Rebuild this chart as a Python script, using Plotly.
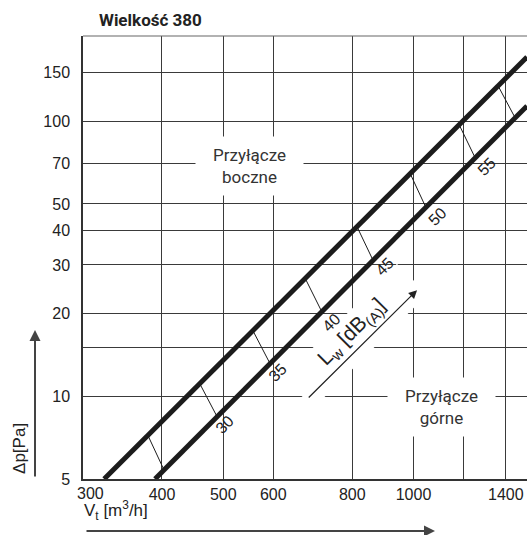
import numpy as np
import plotly.graph_objects as go

# Characteristic lines: air flow V_t [m3/h] vs. pressure drop Δp [Pa]
boczne_v = [324, 1512]
boczne_dp = [5, 171]
gorne_v = [390, 1512]
gorne_dp = [5, 113.6]

# Sound power marker segments: flow where each marker meets the upper / lower line
seg_v_top = [380, 459, 557, 674, 814, 988, 1181, 1361]
seg_v_bot = [403, 489, 593, 716, 863, 1046, 1252, 1448]

# Sound power level labels L_w [dB(A)]
lw_values = [30, 35, 40, 45, 50, 55]
lw_label_v = [503, 610, 741, 901, 1090, 1307]
lw_label_dp = [7.86, 12.15, 18.6, 29.5, 45.2, 68.2]

# Axis ticks / grid
x_ticks = [300, 400, 500, 600, 800, 1000, 1200, 1400]
x_ticktext = ["", "400", "500", "600", "800", "1000", "", "1400"]
y_ticks = [5, 10, 15, 20, 30, 40, 50, 70, 100, 150]
y_ticktext = ["5", "10", "", "20", "30", "40", "50", "70", "100", "150"]

X_RANGE = [300, 1512]
Y_RANGE = [5, 204]

# Direction-of-growth arrow for L_w (start and head)
lw_arrow_v = [679, 1013]
lw_arrow_dp = [9.77, 24.3]

# Centres of the text labels
boczne_label = (550, 68.7)
gorne_label = (1108, 9.1)
lw_band_pos = (808, 16.6)

LINE_COLOR = "#1c1c1c"
GRID_COLOR = "#3a3a3a"
TEXT_COLOR = "#222222"
NUM_FONT = "Liberation Sans, Arial, sans-serif"
LBL_FONT = "Roboto, sans-serif"


def on_line(line_v, line_dp, v):
    """Pressure drop on a straight (log-log) characteristic line at flow v."""
    return 10 ** np.interp(np.log10(v), np.log10(line_v), np.log10(line_dp))


fig = go.Figure()

# thin L_w marker segments between the two characteristics
sx, sy = [], []
for vt, vb in zip(seg_v_top, seg_v_bot):
    sx += [vt, vb, None]
    sy += [float(on_line(boczne_v, boczne_dp, vt)), float(on_line(gorne_v, gorne_dp, vb)), None]
fig.add_trace(go.Scatter(x=sx, y=sy, mode="lines",
                         line=dict(color=LINE_COLOR, width=1), hoverinfo="skip"))

# the two characteristic lines
for v, dp in ((boczne_v, boczne_dp), (gorne_v, gorne_dp)):
    fig.add_trace(go.Scatter(x=v, y=dp, mode="lines",
                             line=dict(color=LINE_COLOR, width=5), hoverinfo="skip"))

lg = np.log10
ann = []

# white rotated band behind the L_w caption and arrow (hides the grid)
ann.append(dict(x=lg(lw_band_pos[0]), y=lg(lw_band_pos[1]), xref="x", yref="y",
                text=" ", showarrow=False, textangle=-45,
                font=dict(family=NUM_FONT, size=12, color="white"),
                bgcolor="white", width=160, height=42, borderpad=0))
# L_w caption
ann.append(dict(x=lg(lw_band_pos[0]), y=lg(lw_band_pos[1]), xref="x", yref="y",
                xshift=-3, yshift=4,
                text="L<sub>w</sub> [dB<sub>(A)</sub>]", showarrow=False, textangle=-45,
                font=dict(family=NUM_FONT, size=21, color=TEXT_COLOR)))
ann.append(dict(x=lg(lw_arrow_v[1]), y=lg(lw_arrow_dp[1]), xref="x", yref="y",
                ax=lg(lw_arrow_v[0]), ay=lg(lw_arrow_dp[0]), axref="x", ayref="y",
                text="", showarrow=True, arrowhead=2, arrowsize=1.4, arrowwidth=1.2,
                arrowcolor=TEXT_COLOR))

# connection type labels
for (v, dp), txt in ((boczne_label, "Przyłącze<br>boczne"), (gorne_label, "Przyłącze<br>górne")):
    ann.append(dict(x=lg(v), y=lg(dp), xref="x", yref="y", text=txt, showarrow=False,
                    font=dict(family=LBL_FONT, size=17, color="#333333"),
                    bgcolor="white", width=107, height=58, borderpad=0))

# L_w level numbers
for val, v, dp in zip(lw_values, lw_label_v, lw_label_dp):
    ann.append(dict(x=lg(v), y=lg(dp), xref="x", yref="y", text=str(val), showarrow=False,
                    textangle=-45, font=dict(family=NUM_FONT, size=16, color=TEXT_COLOR)))

# first x tick label, nudged right of the corner
ann.append(dict(x=lg(300), y=0, xref="x", yref="paper", yanchor="top", yshift=-4, xshift=7,
                text="300", showarrow=False, font=dict(family=NUM_FONT, size=16, color=TEXT_COLOR)))

# title
ann.append(dict(x=0.031, y=1.036, xref="paper", yref="paper", xanchor="left", yanchor="middle",
                text="<b>Wielkość 380</b>", showarrow=False,
                font=dict(family=LBL_FONT, size=17, color=TEXT_COLOR)))

# axis titles with arrows
ann.append(dict(x=-0.002, y=-0.07, xref="paper", yref="paper", xanchor="left", yanchor="middle",
                text="V<sub>t</sub> [m<sup>3</sup>/h]", showarrow=False,
                font=dict(family=NUM_FONT, size=17, color=TEXT_COLOR)))
ann.append(dict(x=0.7928, y=-0.1174, xref="paper", yref="paper", ax=-350, ay=0,
                text="", showarrow=True, arrowhead=2, arrowsize=1.1, arrowwidth=2,
                arrowcolor="#444444"))
ann.append(dict(x=-0.142, y=0.07, xref="paper", yref="paper", xanchor="center", yanchor="middle",
                text="Δp[Pa]", textangle=-90, showarrow=False,
                font=dict(family=NUM_FONT, size=17, color=TEXT_COLOR)))
ann.append(dict(x=-0.1081, y=0.3363, xref="paper", yref="paper", ax=0, ay=148,
                text="", showarrow=True, arrowhead=2, arrowsize=1.1, arrowwidth=2,
                arrowcolor="#444444"))

fig.update_layout(
    width=527, height=535,
    margin=dict(l=83, r=0, t=36, b=56),
    plot_bgcolor="white", paper_bgcolor="white",
    showlegend=False,
    annotations=ann,
    xaxis=dict(type="log", range=[lg(X_RANGE[0]), lg(X_RANGE[1])],
               tickmode="array", tickvals=x_ticks, ticktext=x_ticktext,
               showgrid=True, gridcolor=GRID_COLOR, gridwidth=1.2,
               showline=True, linecolor="#333333", linewidth=2, mirror=False,
               ticks="", tickfont=dict(family=NUM_FONT, size=16, color=TEXT_COLOR),
               zeroline=False, fixedrange=True),
    yaxis=dict(type="log", range=[lg(Y_RANGE[0]), lg(Y_RANGE[1])],
               tickmode="array", tickvals=y_ticks, ticktext=y_ticktext,
               showgrid=True, gridcolor=GRID_COLOR, gridwidth=1.2,
               showline=True, linecolor="#333333", linewidth=1.5,
               ticks="", ticklabelstandoff=8,
               tickfont=dict(family=NUM_FONT, size=16, color=TEXT_COLOR),
               zeroline=False, fixedrange=True),
)

# top frame line
fig.add_shape(type="line", xref="paper", yref="paper", x0=0, x1=1, y0=1, y1=1,
              line=dict(color="#666666", width=1.2))

fig.write_html("out.html")
